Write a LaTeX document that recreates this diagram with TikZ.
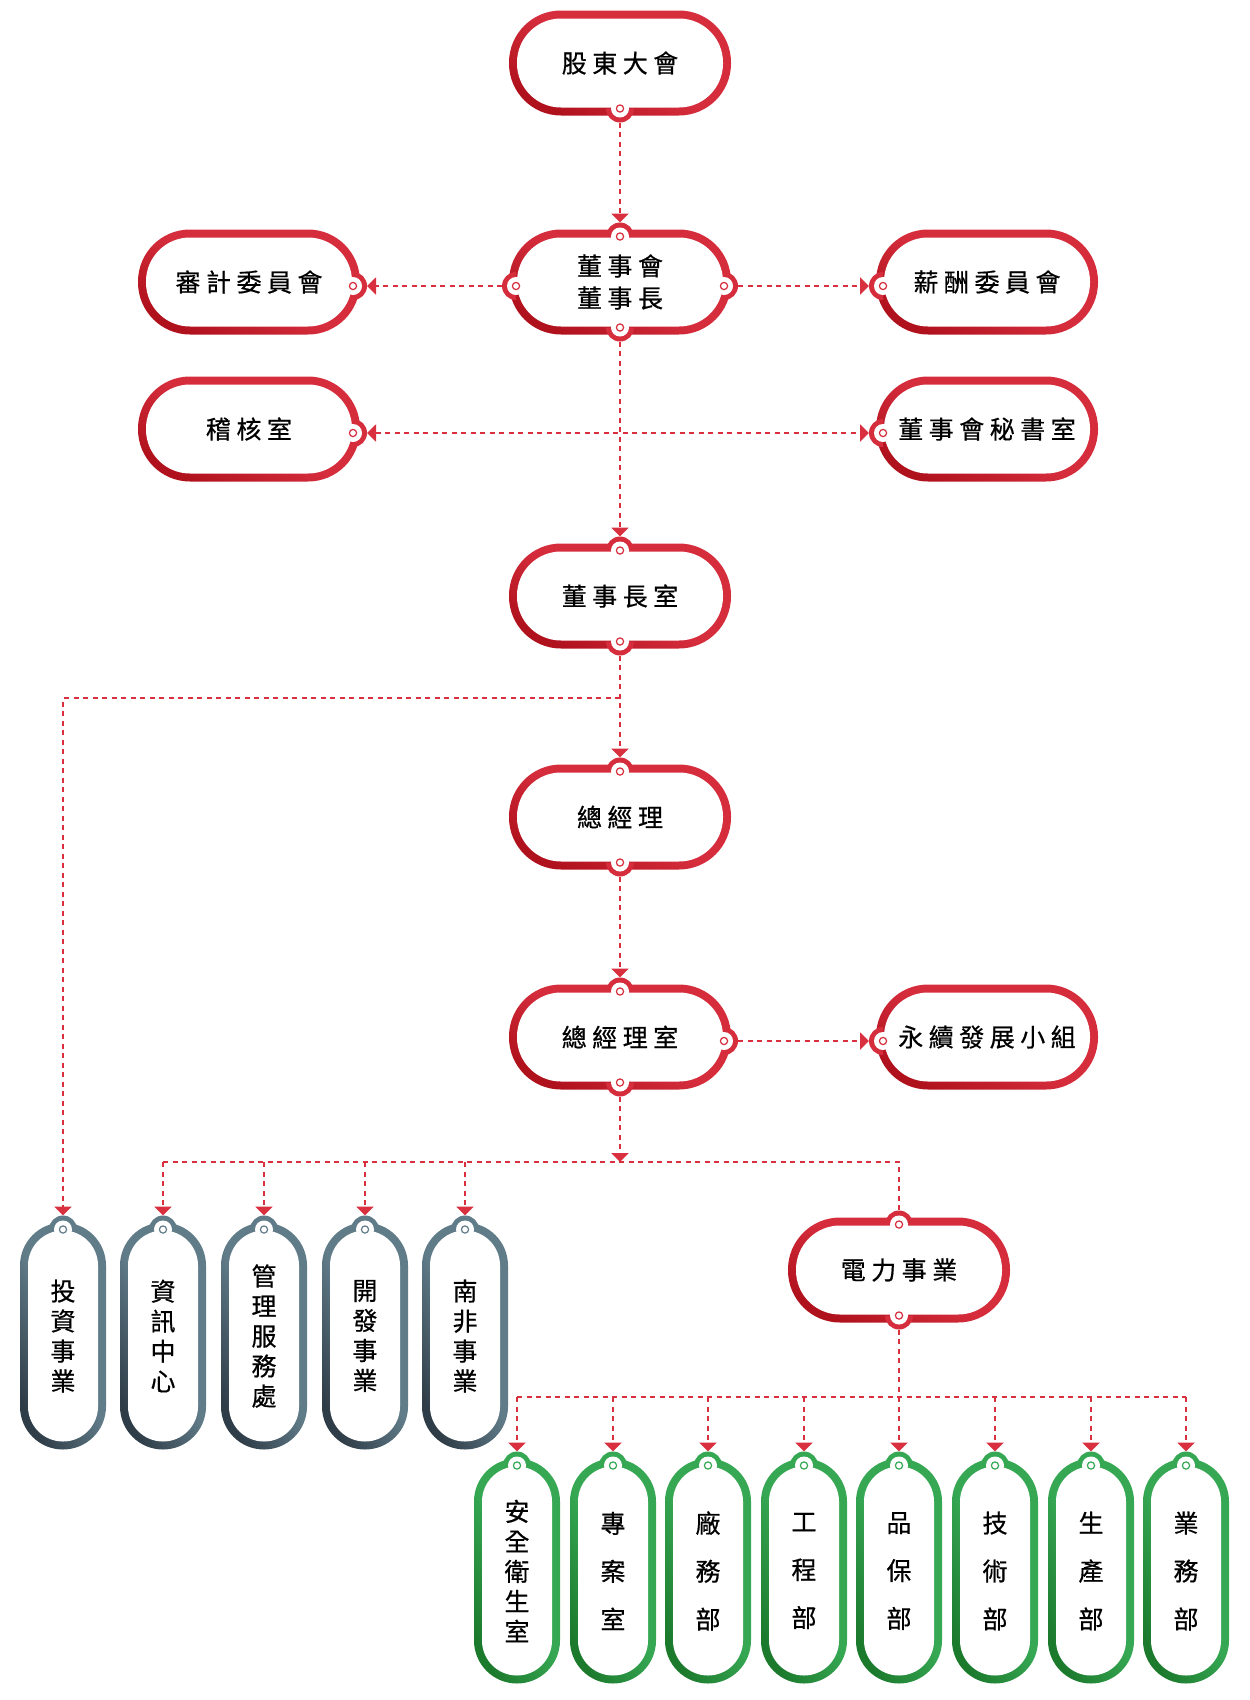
\documentclass[tikz,border=0pt]{standalone}
\usepackage{fontspec}
\newfontfamily\cjk[LetterSpace=22,FakeBold=0.6]{Noto Sans CJK TC}
\newfontfamily\cjkv[FakeBold=0.6]{Noto Sans CJK TC}
\usetikzlibrary{calc}
\usetikzlibrary{arrows.meta}

\definecolor{redA}{HTML}{D62D3D}
\definecolor{redB}{HTML}{B0121D}
\definecolor{greyA}{HTML}{617C89}
\definecolor{greyB}{HTML}{2F3D48}
\definecolor{greenA}{HTML}{36A854}
\definecolor{greenB}{HTML}{1C7A2D}
\definecolor{linkred}{HTML}{D8303F}

\tikzset{
  box/.style={rectangle, inner sep=0pt, outer sep=7pt, align=center,
    path picture={\fill [white, rounded corners=#1pt]
      ([xshift=8pt,yshift=8pt]path picture bounding box.south west) rectangle
      ([xshift=-8pt,yshift=-8pt]path picture bounding box.north east);}},
  redbox/.style={box=44, rounded corners=52pt, minimum width=222pt, minimum height=105pt,
    top color=redA, bottom color=redB, middle color=redA, shading angle=-30,
    font=\cjk\fontsize{25}{32}\selectfont},
  greybox/.style={box=35, rounded corners=43pt, minimum width=86pt, minimum height=227pt,
    top color=greyA, bottom color=greyB, middle color=greyA, shading angle=-65,
    font=\cjkv\fontsize{25}{30}\selectfont},
  greenbox/.style={box=35, rounded corners=43pt, minimum width=86pt, minimum height=225pt,
    top color=greenA, bottom color=greenB, middle color=greenA, shading angle=-65,
    font=\cjkv\fontsize{25}{30}\selectfont},
  wide/.style={font=\cjkv\fontsize{25}{48}\selectfont},
  link/.style={draw=linkred, line width=2pt, dash pattern=on 5pt off 4.5pt},
  tip/.style={-{Triangle[width=17pt,length=9pt]}},
  pics/knob/.style={code={
    \fill [#1] (-14,14) arc (180:360:14) -- cycle;
    \fill [white] (0,14) circle (9);
    \draw [#1, line width=1.2pt] (0,14) circle (3.6);
  }}
}

\begin{document}
\begin{tikzpicture}[x=1pt, y=-1pt]
  \useasboundingbox (0,0) rectangle (1250,1700);

  % board level
  \path (620,63)  node [redbox] (meet) {股東大會};
  \path (620,282) node [redbox] (board) {董事會\\董事長};
  \path (249,282) node [redbox] (audit) {審計委員會};
  \path (987,282) node [redbox] (pay) {薪酬委員會};
  \path (249,429) node [redbox] (inspect) {稽核室};
  \path (987,429) node [redbox] (secr) {董事會秘書室};
  \path (620,596) node [redbox] (chair) {董事長室};

  % management
  \path (620,817)  node [redbox] (gm) {總經理};
  \path (620,1037) node [redbox] (gmo) {總經理室};
  \path (987,1037) node [redbox] (esg) {永續發展小組};
  \path (899,1270) node [redbox] (power) {電力事業};

  % business units
  \path (63,1336)  node [greybox] (invest) {投\\資\\事\\業};
  \path (163,1336) node [greybox] (info) {資\\訊\\中\\心};
  \path (264,1336) node [greybox] (admin) {管\\理\\服\\務\\處};
  \path (365,1336) node [greybox] (devel) {開\\發\\事\\業};
  \path (465,1336) node [greybox] (safrica) {南\\非\\事\\業};

  % power departments
  \path (517,1571)  node [greenbox] (safety) {安\\全\\衛\\生\\室};
  \path (613,1571)  node [greenbox, wide] (project) {專\\案\\室};
  \path (708,1571)  node [greenbox, wide] (plant) {廠\\務\\部};
  \path (804,1571)  node [greenbox, wide] (works) {工\\程\\部};
  \path (899,1571)  node [greenbox, wide] (quality) {品\\保\\部};
  \path (995,1571)  node [greenbox, wide] (tech) {技\\術\\部};
  \path (1091,1571) node [greenbox, wide] (product) {生\\產\\部};
  \path (1186,1571) node [greenbox, wide] (sales) {業\\務\\部};

  % knobs
  \foreach \n in {board, chair, gm, gmo, power}
    \pic at (\n.north) {knob=redA};
  \foreach \n in {meet, board, chair, gm, gmo, power}
    \pic [rotate=180] at (\n.south) {knob=redA};
  \foreach \n in {board, audit, inspect, gmo}
    \pic [rotate=-90] at ([yshift=-4pt]\n.east) {knob=redA};
  \foreach \n in {board, pay, secr, esg}
    \pic [rotate=90] at ([yshift=-4pt]\n.west) {knob=redA};
  \foreach \n in {invest, info, admin, devel, safrica}
    \pic at (\n.north) {knob=greyA};
  \foreach \n in {safety, project, plant, works, quality, tech, product, sales}
    \pic at (\n.north) {knob=greenA};

  % links
  \draw [link, tip] (meet.south) -- (board.north);
  \draw [link, tip] ([yshift=-4pt]board.west) -- ([yshift=-4pt]audit.east);
  \draw [link, tip] ([yshift=-4pt]board.east) -- ([yshift=-4pt]pay.west);
  \draw [link, tip] (board.south) -- (chair.north);
  \draw [link, {Triangle[width=17pt,length=9pt]}-{Triangle[width=17pt,length=9pt]}]
    ([yshift=-4pt]inspect.east) -- ([yshift=-4pt]secr.west);
  \draw [link, tip] (chair.south) -- (gm.north);
  \coordinate (fork) at (620,698);
  \draw [link, tip] (fork) -| (invest.north);
  \draw [link, tip] (gm.south) -- (gmo.north);
  \draw [link, tip] ([yshift=-4pt]gmo.east) -- ([yshift=-4pt]esg.west);

  \coordinate (bus) at (620,1162);
  \draw [link, tip] (gmo.south) -- (bus);
  \draw [link] (info.north |- bus) -- (power.north |- bus) -- (power.north);
  \foreach \n in {info, admin, devel, safrica}
    \draw [link, tip] (\n.north |- bus) -- (\n.north);

  \coordinate (bus2) at (899,1397);
  \draw [link] (power.south) -- (bus2);
  \draw [link] (safety.north |- bus2) -- (sales.north |- bus2);
  \foreach \n in {safety, project, plant, works, quality, tech, product, sales}
    \draw [link, tip] (\n.north |- bus2) -- (\n.north);
\end{tikzpicture}
\end{document}
